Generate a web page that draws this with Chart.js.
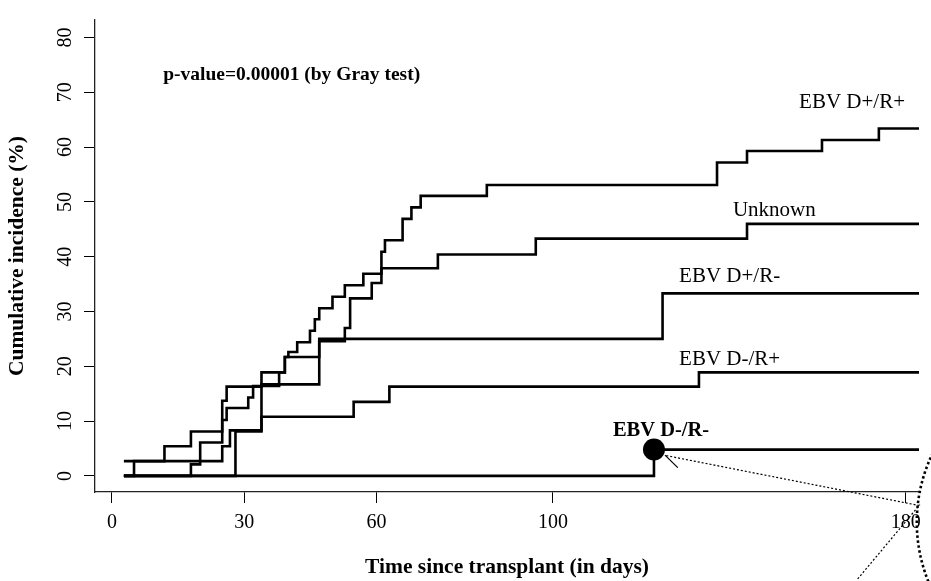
<!DOCTYPE html>
<html>
<head>
<meta charset="utf-8">
<title>Cumulative incidence by EBV serostatus</title>
<script src="https://cdn.jsdelivr.net/npm/chart.js@4.4.1/dist/chart.umd.min.js"></script>
<style>
    html, body { margin: 0; padding: 0; background: #fff; }
    .chart-container { position: relative; width: 931px; height: 581px; }
</style>
</head>
<body>
<div class="chart-container">
    <canvas id="cifChart"></canvas>
</div>

<script>
    // Step curves: time of each jump (days) and cumulative incidence after it (%)
    const dpRpDays = [2.7, 5.0, 11.9, 17.9, 25.0, 26.0, 33.9, 39.2, 40.0, 42.0, 44.9, 46.0, 47.0, 50.0, 52.8, 57.0, 61.1, 61.9, 65.9, 67.9, 70.0, 85.0, 137.2, 144.0, 161.0, 173.9, 183];
    const dpRpCif  = [0, 2.7, 5.4, 8.1, 13.7, 16.3, 18.9, 21.7, 22.6, 24.4, 26.5, 28.6, 30.6, 32.7, 34.8, 36.9, 40.9, 43.0, 46.9, 49.0, 51.1, 53.1, 57.2, 59.3, 61.3, 63.4, 63.4];

    const unkDays = [2.7, 17.9, 20.0, 25.0, 26.0, 30.9, 32.0, 37.9, 39.2, 47.0, 52.8, 54.0, 58.9, 61.1, 73.9, 96.1, 144.0, 183];
    const unkCif  = [0, 2.1, 6.1, 10.2, 12.4, 14.3, 16.4, 18.9, 21.7, 24.6, 27.0, 32.4, 35.2, 37.9, 40.4, 43.3, 46.0, 46.0];

    const dpRnDays = [2.7, 25.0, 26.75, 33.9, 47.0, 124.85, 183];
    const dpRnCif  = [2.7, 5.4, 8.3, 16.7, 25.0, 33.3, 33.3];

    const dnRpDays = [2.7, 28.0, 33.9, 54.8, 62.9, 133.1, 183];
    const dnRpCif  = [0, 8.1, 10.8, 13.5, 16.3, 18.9, 18.9];

    const dnRnDays = [2.7, 122.9, 183];
    const dnRnCif  = [0, 4.8, 4.8];

    const xTicks = [0, 30, 60, 100, 180];
    const yTicks = [0, 10, 20, 30, 40, 50, 60, 70, 80];

    const serif = "'Liberation Serif', 'Times New Roman', serif";

    function toPoints(days, cif) {
        return days.map((d, i) => ({ x: d, y: cif[i] }));
    }

    function stepCurve(label, days, cif) {
        return {
            label: label,
            data: toPoints(days, cif),
            borderColor: '#000',
            borderWidth: 2.6,
            pointRadius: 0,
            stepped: 'before',
            fill: false,
            borderCapStyle: 'butt',
            borderJoinStyle: 'miter'
        };
    }

    // Curve names and the p-value, anchored in data units (left edge, baseline)
    const textLabels = [
        { text: 'p-value=0.00001 (by Gray test)', x: 11.6, y: 72.2, font: 'bold 19.5px ' + serif },
        { text: 'EBV D+/R+', x: 155.8, y: 67.1, font: '21px ' + serif },
        { text: 'Unknown', x: 140.8, y: 47.4, font: '21px ' + serif },
        { text: 'EBV D+/R-', x: 128.6, y: 35.4, font: '21px ' + serif },
        { text: 'EBV D-/R+', x: 128.6, y: 20.3, font: '21px ' + serif },
        { text: 'EBV D-/R-', x: 113.6, y: 7.2, font: 'bold 20.5px ' + serif }
    ];

    // Marker on the first D-/R- event with its callout lines
    const marker = { x: 122.9, y: 4.8 };
    const pointer = [{ x: 125.4, y: 3.8 }, { x: 128.3, y: 1.5 }];
    const calloutA = [{ x: 125.7, y: 3.7 }, { x: 183.0, y: -5.4 }];
    const calloutB = [{ x: 169.1, y: -18.8 }, { x: 183.2, y: -5.25 }];
    const lens = { x: 218.3, y: -8.45, rDays: 35.8 };

    const annotationPlugin = {
        id: 'annotations',
        afterDatasetsDraw(chart) {
            const ctx = chart.ctx;
            const xs = chart.scales.x;
            const ys = chart.scales.y;
            const px = v => xs.getPixelForValue(v);
            const py = v => ys.getPixelForValue(v);

            ctx.save();
            ctx.strokeStyle = '#000';
            ctx.fillStyle = '#000';

            // dotted callout lines
            ctx.lineWidth = 1.2;
            ctx.setLineDash([2, 2]);
            [calloutA, calloutB].forEach(seg => {
                ctx.beginPath();
                ctx.moveTo(px(seg[0].x), py(seg[0].y));
                ctx.lineTo(px(seg[1].x), py(seg[1].y));
                ctx.stroke();
            });

            // edge of the magnifier circle
            ctx.lineWidth = 2.6;
            ctx.setLineDash([2.5, 2.5]);
            ctx.beginPath();
            const r = px(lens.x) - px(lens.x - lens.rDays);
            ctx.arc(px(lens.x), py(lens.y), r, 0, Math.PI * 2);
            ctx.stroke();

            // pointer and filled dot
            ctx.setLineDash([]);
            ctx.lineWidth = 1.2;
            ctx.beginPath();
            ctx.moveTo(px(pointer[0].x), py(pointer[0].y));
            ctx.lineTo(px(pointer[1].x), py(pointer[1].y));
            ctx.stroke();

            ctx.beginPath();
            ctx.arc(px(marker.x), py(marker.y), 11, 0, Math.PI * 2);
            ctx.fill();

            // labels
            ctx.textAlign = 'left';
            ctx.textBaseline = 'alphabetic';
            textLabels.forEach(l => {
                ctx.font = l.font;
                ctx.fillText(l.text, px(l.x), py(l.y));
            });
            ctx.restore();
        }
    };

    const ctx = document.getElementById('cifChart').getContext('2d');
    const chart = new Chart(ctx, {
        type: 'line',
        data: {
            datasets: [
                stepCurve('EBV D+/R+', dpRpDays, dpRpCif),
                stepCurve('Unknown', unkDays, unkCif),
                stepCurve('EBV D+/R-', dpRnDays, dpRnCif),
                stepCurve('EBV D-/R+', dnRpDays, dnRpCif),
                stepCurve('EBV D-/R-', dnRnDays, dnRnCif)
            ]
        },
        options: {
            responsive: true,
            maintainAspectRatio: false,
            animation: false,
            layout: { padding: { top: 8, right: 12, bottom: 0, left: 0 } },
            plugins: {
                legend: { display: false },
                tooltip: { enabled: false }
            },
            scales: {
                x: {
                    type: 'linear',
                    min: -3.85,
                    max: 183,
                    afterBuildTicks: s => { s.ticks = xTicks.map(v => ({ value: v })); },
                    afterFit: s => { s.height = 89; },
                    grid: { drawOnChartArea: false, drawTicks: true, tickLength: 11, color: '#000', lineWidth: 1 },
                    border: { display: true, color: '#222', width: 1.3 },
                    ticks: {
                        color: '#000',
                        font: { family: serif, size: 20 },
                        padding: 8,
                        maxRotation: 0,
                        autoSkip: false
                    },
                    title: {
                        display: true,
                        text: 'Time since transplant (in days)',
                        color: '#000',
                        font: { family: serif, size: 21.5, weight: 'bold' },
                        padding: { top: 0, bottom: 1 }
                    }
                },
                y: {
                    min: -2.94,
                    max: 83.2,
                    afterBuildTicks: s => { s.ticks = yTicks.map(v => ({ value: v })); },
                    afterFit: s => { s.width = 95; },
                    grid: { drawOnChartArea: false, drawTicks: true, tickLength: 11, color: '#000', lineWidth: 1 },
                    border: { display: true, color: '#222', width: 1.3 },
                    ticks: {
                        color: '#000',
                        font: { family: serif, size: 20 },
                        padding: 8,
                        minRotation: 90,
                        maxRotation: 90,
                        crossAlign: 'center',
                        autoSkip: false
                    },
                    title: {
                        display: true,
                        text: 'Cumulative incidence (%)',
                        color: '#000',
                        font: { family: serif, size: 21.5, weight: 'bold' },
                        padding: { top: 5, bottom: 0 }
                    }
                }
            }
        },
        plugins: [annotationPlugin]
    });
</script>
</body>
</html>
